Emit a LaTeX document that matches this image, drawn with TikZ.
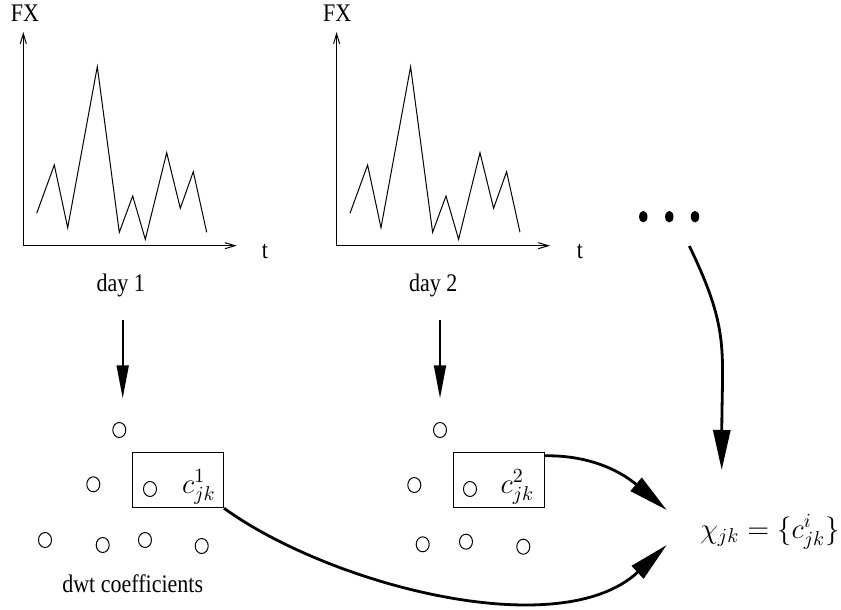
\documentclass[tikz,border=0pt]{standalone}
\usepackage{fontspec}
\setmainfont{Liberation Serif}
\usetikzlibrary{arrows.meta,shapes.geometric}
\begin{document}
\begin{tikzpicture}[x=0.5pt,y=-0.5pt,
  lbl/.style={inner sep=0pt, font=\fontsize{11}{13}\selectfont, yscale=1.15},
  mth/.style={inner sep=0pt, font=\fontsize{14}{17}\selectfont},
  coef/.style={draw, ellipse, line width=0.5pt, minimum width=6.5pt, minimum height=7.5pt, inner sep=0pt},
  bigdot/.style={fill, ellipse, minimum width=4.2pt, minimum height=5.8pt, inner sep=0pt},
  cbox/.style={draw, line width=0.5pt, minimum width=45.5pt, minimum height=27.7pt, inner sep=0pt},
  axis/.style={line width=0.5pt, -{Straight Barb[length=5pt,width=3pt]}},
  series/.style={line width=0.5pt, line join=miter},
  thin arrow/.style={line width=0.9pt, -{Triangle[length=16.5pt,width=6pt]}},
  thick arrow/.style={line width=1.4pt, -{Triangle[length=20pt,width=8.5pt]}}]
\useasboundingbox (0,0) rectangle (841,610);

% ---------- graph 1 ----------
\coordinate (o1) at (23.3,245.7);
\coordinate (y1) at (23.3,32);
\coordinate (x1) at (236.7,245.7);
\draw[axis] (o1) -- (y1);
\draw[axis] (o1) -- (x1);
\draw[series] (36.7,213.3) -- (54.3,165) -- (67.7,227.7) -- (97.3,66.7) -- (119.3,232.3)
  -- (132.7,196) -- (145.3,239.3) -- (166.7,152.7) -- (180.3,208.3) -- (193.3,171.7) -- (206.7,232.3);
\node[lbl] (fx1) at (25,13.5) {FX};
\node[lbl] (t1) at (265,251.5) {t};
\node[lbl] (day1) at (120.7,285) {day 1};

% ---------- graph 2 ----------
\begin{scope}[xshift=156.65pt]
\coordinate (o2) at (23.3,245.7);
\coordinate (y2) at (23.3,32);
\coordinate (x2) at (236.7,245.7);
\draw[axis] (o2) -- (y2);
\draw[axis] (o2) -- (x2);
\draw[series] (36.7,213.3) -- (54.3,165) -- (67.7,227.7) -- (97.3,66.7) -- (119.3,232.3)
  -- (132.7,196) -- (145.3,239.3) -- (166.7,152.7) -- (180.3,208.3) -- (193.3,171.7) -- (206.7,232.3);
\end{scope}
\node[lbl] (fx2) at (337.3,13.5) {FX};
\node[lbl] (t2) at (580,251.5) {t};
\node[lbl] (day2) at (433.3,285) {day 2};

% ---------- dots ----------
\node[bigdot] (d1) at (643.3,216.7) {};
\node[bigdot] (d2) at (669.3,216.7) {};
\node[bigdot] (d3) at (695,216.7) {};

% ---------- coefficients 1 ----------
\coordinate (a1s) at (122.7,320);
\coordinate (a1e) at (122.7,398.3);
\draw[thin arrow] (a1s) -- (a1e);
\node[cbox] (b1) at (178,480) {};
\node[coef] (p11) at (119.3,430) {};
\node[coef] (p21) at (93.3,484.3) {};
\node[coef] (p22) at (150,489) {};
\node[coef] (p31) at (45,540) {};
\node[coef] (p32) at (102.7,545) {};
\node[coef] (p33) at (145,540) {};
\node[coef] (p34) at (201.7,546) {};
\node[mth] (cl1) at (199,487) {$c^1_{jk}$};
\node[lbl] (dwt) at (132.7,584) {dwt coefficients};

% ---------- coefficients 2 ----------
\coordinate (a2s) at (440,320);
\coordinate (a2e) at (440,398.3);
\draw[thin arrow] (a2s) -- (a2e);
\node[cbox] (b2) at (498.8,480) {};
\node[coef] (q11) at (440,430) {};
\node[coef] (q21) at (414.3,485) {};
\node[coef] (q22) at (470,489) {};
\node[coef] (q31) at (422.7,544.3) {};
\node[coef] (q32) at (466,541.7) {};
\node[coef] (q34) at (523.3,546.7) {};
\node[mth] (cl2) at (517.5,487) {$c^2_{jk}$};

% ---------- result ----------
\node[mth] (chi) at (770,531.7) {$\chi_{jk} = \{c^i_{jk}\}$};
\coordinate (in1) at (666.7,510);
\coordinate (in2) at (666.7,545);
\coordinate (in3) at (721.7,470);
\coordinate (ds) at (689.3,246);

\draw[thick arrow] ([yshift=-2pt]b2.north east) .. controls (595,455) and (625,475) .. (in1);
\draw[thick arrow] (b1.south east) .. controls (330,585) and (560,645) .. (in2);
\draw[thick arrow] (ds) .. controls (730,330) and (722,350) .. (in3);
\end{tikzpicture}
\end{document}
